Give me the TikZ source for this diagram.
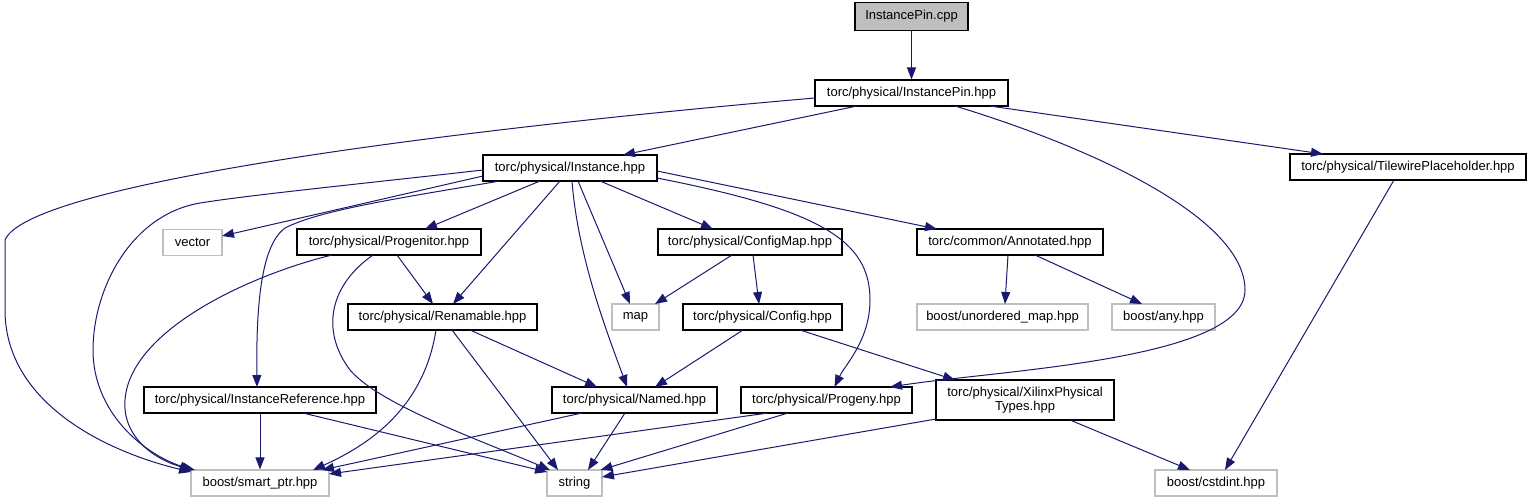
\documentclass[tikz,border=0pt]{standalone}
\usepackage{fontspec}
\setmainfont{Liberation Sans}
\usetikzlibrary{arrows.meta,calc}
\definecolor{edgecol}{HTML}{191970}
\definecolor{graybox}{HTML}{BFBFBF}
\begin{document}
\begin{tikzpicture}[x=1pt,y=-1pt,
  box/.style={draw=black, line width=1.1pt, inner sep=0pt, minimum height=26, font=\fontsize{13}{15}\selectfont, text=black},
  gbox/.style={box, draw=graybox},
  edge/.style={draw=edgecol, line width=1pt, -{Triangle[length=12pt,width=9pt]}}]
\useasboundingbox (0,0) rectangle (1531,501);
% nodes
\node[box, minimum width=113, minimum height=28, fill=graybox] (cpp) at (911.5,16.5) {InstancePin.cpp};
\node[box, minimum width=193] (pinhpp) at (911.5,93) {torc/physical/InstancePin.hpp};
\node[box, minimum width=174] (inst) at (570,168) {torc/physical/Instance.hpp};
\node[box, minimum width=236] (tile) at (1408,167) {torc/physical/TilewirePlaceholder.hpp};
\node[gbox, minimum width=59] (vector) at (192.5,242.5) {vector};
\node[box, minimum width=184] (progenitor) at (389,242) {torc/physical/Progenitor.hpp};
\node[box, minimum width=184] (configmap) at (750,242) {torc/physical/ConfigMap.hpp};
\node[box, minimum width=186] (annotated) at (1010,242) {torc/common/Annotated.hpp};
\node[gbox, minimum width=47] (map) at (635.5,317) {map};
\node[box, minimum width=189] (renamable) at (442.5,317) {torc/physical/Renamable.hpp};
\node[box, minimum width=159] (config) at (762.5,317) {torc/physical/Config.hpp};
\node[gbox, minimum width=171] (unordered) at (1002.5,317) {boost/unordered\_map.hpp};
\node[gbox, minimum width=103] (any) at (1163.5,317) {boost/any.hpp};
\node[box, minimum width=232] (instref) at (260,400) {torc/physical/InstanceReference.hpp};
\node[box, minimum width=165] (named) at (634.5,400) {torc/physical/Named.hpp};
\node[box, minimum width=171] (progeny) at (826.5,400) {torc/physical/Progeny.hpp};
\node[box, minimum width=178, minimum height=40, align=center, font=\fontsize{13}{14.5}\selectfont] (xilinx) at (1025,400) {torc/physical/XilinxPhysical\\Types.hpp};
\node[gbox, minimum width=138] (smartptr) at (260,483) {boost/smart\_ptr.hpp};
\node[gbox, minimum width=55] (string) at (574.5,483) {string};
\node[gbox, minimum width=122] (cstdint) at (1216,483) {boost/cstdint.hpp};
% edges
\draw[edge] (cpp.south) -- (pinhpp.north);
\draw[edge] ($(pinhpp)+(-96.5,5)$) .. controls (500,125) and (30,180) .. (5,240) -- (5,310) .. controls (5,400) and (100,450) .. ($(smartptr)+(-69,-11)$);
\draw[edge] ($(pinhpp)+(-54.5,13)$) -- ($(inst)+(53,-13)$);
\draw[edge] ($(pinhpp)+(43.5,13)$) .. controls (1100,150) and (1245,220) .. (1245,290) .. controls (1245,360) and (1000,370) .. ($(progeny)+(63.5,-13)$);
\draw[edge] ($(pinhpp)+(78.5,13)$) -- ($(tile)+(-85,-13)$);
\draw[edge] ($(tile)+(-14,13)$) -- ($(cstdint)+(9,-13)$);
\draw[edge] ($(inst)+(-87,2)$) .. controls (350,185) and (250,195) .. (200,203) .. controls (130,215) and (93,290) .. (93,350) .. controls (93,410) and (140,452) .. ($(smartptr)+(-68,-13)$);
\draw[edge] ($(inst)+(-87,8)$) -- ($(vector)+(29.5,-6.5)$);
\draw[edge] ($(inst)+(-70,13)$) .. controls (400,198) and (320,210) .. (285,228) .. controls (262,245) and (256,300) .. ($(instref)+(-3,-13)$);
\draw[edge] ($(inst)+(-30,13)$) -- ($(progenitor)+(36,-13)$);
\draw[edge] ($(inst)+(-10,13)$) -- ($(renamable)+(10.5,-13)$);
\draw[edge] ($(inst)+(2,13)$) .. controls (578,260) and (610,340) .. ($(named)+(-7.5,-13)$);
\draw[edge] ($(inst)+(8,13)$) -- ($(map)+(-5.5,-13)$);
\draw[edge] ($(inst)+(30,13)$) -- ($(configmap)+(-37,-13)$);
\draw[edge] ($(inst)+(87,3)$) -- ($(annotated)+(-73,-13)$);
\draw[edge] ($(inst)+(87,10)$) .. controls (820,210) and (870,240) .. (870,300) .. controls (870,340) and (845,365) .. ($(progeny)+(8,-13)$);
\draw[edge] ($(progenitor)+(-57,13)$) .. controls (250,275) and (130,330) .. (125,400) .. controls (122,440) and (160,462) .. ($(smartptr)+(-65,-13)$);
\draw[edge] ($(progenitor)+(8,13)$) -- ($(renamable)+(-9.5,-13)$);
\draw[edge] ($(progenitor)+(-16,13)$) .. controls (330,285) and (320,330) .. (350,370) .. controls (380,405) and (480,440) .. ($(string)+(-24.5,-13)$);
\draw[edge] ($(renamable)+(-6.5,13)$) .. controls (425,400) and (380,440) .. ($(smartptr)+(53,-13)$);
\draw[edge] ($(renamable)+(27.5,13)$) -- ($(named)+(-37.5,-13)$);
\draw[edge] ($(renamable)+(9.5,13)$) -- ($(string)+(-16.5,-13)$);
\draw[edge] ($(configmap)+(-18,13)$) -- ($(map)+(19.5,-13)$);
\draw[edge] ($(configmap)+(3,13)$) -- ($(config)+(-3.5,-13)$);
\draw[edge] ($(config)+(-19.5,13)$) -- ($(named)+(20.5,-13)$);
\draw[edge] ($(config)+(37.5,13)$) -- ($(xilinx)+(-70,-20)$);
\draw[edge] ($(annotated)+(-2,13)$) -- ($(unordered)+(2.5,-13)$);
\draw[edge] ($(annotated)+(25,13)$) -- ($(any)+(-21.5,-13)$);
\draw[edge] (instref.south) -- (smartptr.north);
\draw[edge] ($(instref)+(43,13)$) -- ($(string)+(-27.5,-11)$);
\draw[edge] ($(named)+(-52.5,13)$) -- ($(smartptr)+(62,-13)$);
\draw[edge] ($(named)+(-9.5,13)$) -- ($(string)+(13.5,-13)$);
\draw[edge] ($(progeny)+(-58.5,13)$) -- ($(smartptr)+(69,-9)$);
\draw[edge] ($(progeny)+(-38.5,13)$) -- ($(string)+(26,-13)$);
\draw[edge] ($(xilinx)+(-89,19)$) -- ($(string)+(27.5,-6)$);
\draw[edge] ($(xilinx)+(45,20)$) -- ($(cstdint)+(-26,-13)$);
\end{tikzpicture}
\end{document}
